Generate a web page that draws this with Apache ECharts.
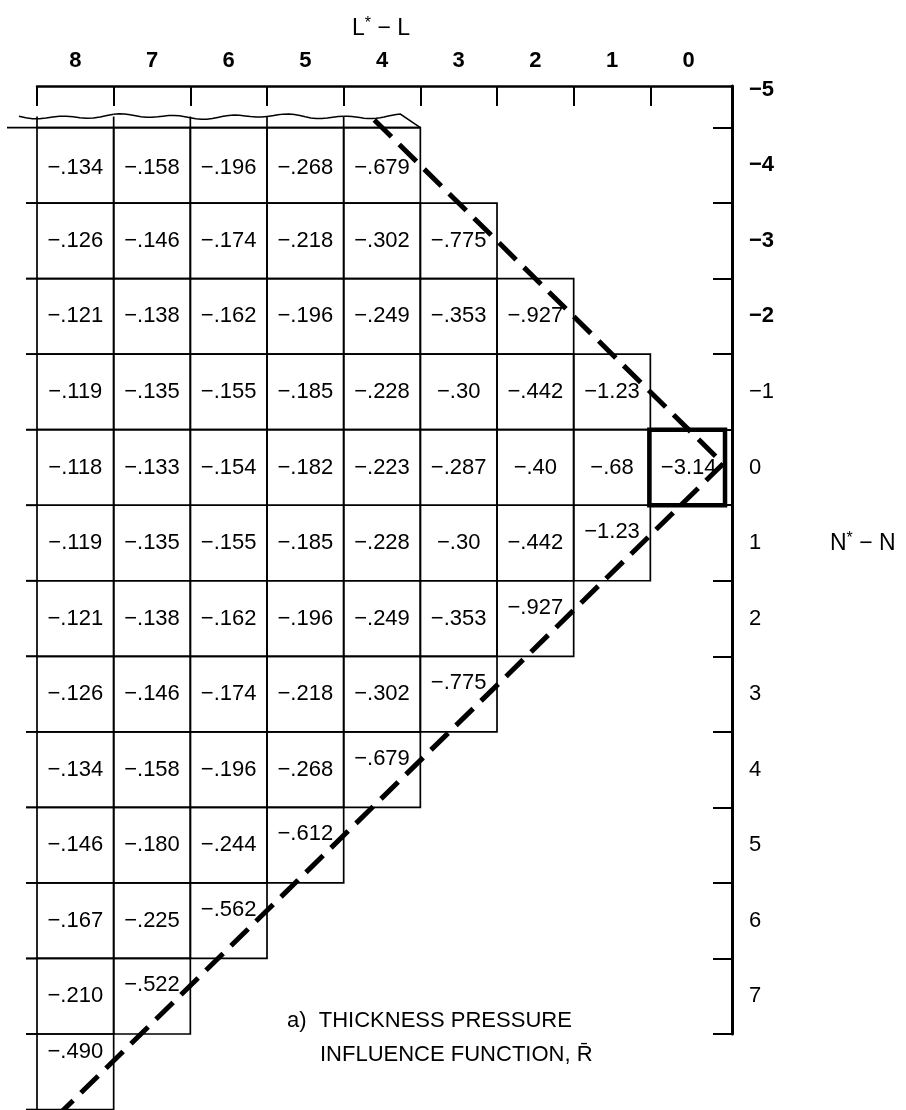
<!DOCTYPE html>
<html>
<head>
<meta charset="utf-8">
<script src="https://cdn.jsdelivr.net/npm/echarts@6.0.0/dist/echarts.min.js"></script>
<style>
  html, body { margin: 0; padding: 0; background: #fff; }
  #chart { width: 906px; height: 1110px; }
</style>
</head>
<body>
<div id="chart"></div>
<script>
// ---- Data (values as printed in the table) ----
// Column axis: L* - L (left to right 8 ... 0)
const colTickLabels = [8, 7, 6, 5, 4, 3, 2, 1, 0];
// Row axis: N* - N (top to bottom)
const rowTickLabels = [-5, -4, -3, -2, -1, 0, 1, 2, 3, 4, 5, 6, 7];
// Rows of the table (N* - N), each row lists values starting at column L*-L = 8
const tableRows = [-4, -3, -2, -1, 0, 1, 2, 3, 4, 5, 6, 7, 8];
const rowM4 = ['-.134', '-.158', '-.196', '-.268', '-.679'];
const rowM3 = ['-.126', '-.146', '-.174', '-.218', '-.302', '-.775'];
const rowM2 = ['-.121', '-.138', '-.162', '-.196', '-.249', '-.353', '-.927'];
const rowM1 = ['-.119', '-.135', '-.155', '-.185', '-.228', '-.30', '-.442', '-1.23'];
const row0  = ['-.118', '-.133', '-.154', '-.182', '-.223', '-.287', '-.40', '-.68', '-3.14'];
const row1  = ['-.119', '-.135', '-.155', '-.185', '-.228', '-.30', '-.442', '-1.23'];
const row2  = ['-.121', '-.138', '-.162', '-.196', '-.249', '-.353', '-.927'];
const row3  = ['-.126', '-.146', '-.174', '-.218', '-.302', '-.775'];
const row4  = ['-.134', '-.158', '-.196', '-.268', '-.679'];
const row5  = ['-.146', '-.180', '-.244', '-.612'];
const row6  = ['-.167', '-.225', '-.562'];
const row7  = ['-.210', '-.522'];
const row8  = ['-.490'];
const rowValueLists = [rowM4, rowM3, rowM2, rowM1, row0, row1, row2, row3, row4, row5, row6, row7, row8];
// Dashed guide lines, in (L*-L, N*-N) coordinates
const upperDiagonal = [[4.1, -4.6], [-0.45, -0.05]];
const lowerDiagonal = [[-0.45, -0.05], [8.2, 8.55]];

// ---- Build cells ----
const cells = [];
tableRows.forEach((r, ri) => {
  rowValueLists[ri].forEach((s, i) => {
    cells.push([colTickLabels[i], r, parseFloat(s), s]);
  });
});

const FONT = '"Liberation Sans", Arial, Helvetica, sans-serif';
const fmtMinus = s => String(s).replace('-', '\u2212');

function renderCell(params, api) {
  const col = api.value(0), row = api.value(1);
  const label = fmtMinus(cells[params.dataIndex][3]);
  const a = api.coord([col + 0.5, row - 0.5]);
  const b = api.coord([col - 0.5, row + 0.5]);
  const x0 = Math.min(a[0], b[0]), x1 = Math.max(a[0], b[0]);
  const y0 = Math.min(a[1], b[1]), y1 = Math.max(a[1], b[1]);
  const isCenter = col === 0 && row === 0;
  const children = [];
  const thin = { stroke: '#000', lineWidth: 1.7 };
  children.push({
    type: 'rect',
    shape: isCenter ? { x: x0 - 1, y: y0, width: x1 - x0 - 1, height: y1 - y0 } : { x: x0, y: y0, width: x1 - x0, height: y1 - y0 },
    style: { fill: 'none', stroke: '#000', lineWidth: isCenter ? 4.5 : 1.7 },
    z2: isCenter ? 10 : 1
  });
  // left-edge tick extensions of row lines
  if (col === 8) {
    children.push({ type: 'line', shape: { x1: x0 - 11, y1: y1, x2: x0, y2: y1 }, style: thin });
    if (row !== -4) children.push({ type: 'line', shape: { x1: x0 - 11, y1: y0, x2: x0, y2: y0 }, style: thin });
  }
  // torn (wavy) top edge above first row
  if (row === -4) {
    const top = y0 - 11;
    const startX = col === 8 ? x0 - 18 : x0;
    const endX = col === 4 ? x1 - 20 : x1;
    const pts = [];
    const n = 14;
    for (let k = 0; k <= n; k++) {
      const x = startX + (endX - startX) * k / n;
      pts.push([x, top + 1.6 * Math.sin((x - 20) / 9) + 1.2 * Math.sin((x - 20) / 23)]);
    }
    if (col === 4) pts.push([x1, y0]);
    children.push({ type: 'polyline', shape: { points: pts }, style: { stroke: '#000', lineWidth: 1.5, fill: 'none' } });
    children.push({ type: 'line', shape: { x1: x0, y1: top, x2: x0, y2: y0 }, style: thin });
    const ext = col === 8 ? 30 : 0;
    children.push({ type: 'line', shape: { x1: x0 - ext, y1: y0, x2: x1, y2: y0 }, style: thin });
  }
  // label position: cells on the lower diagonal have their number lifted
  let dy = 0;
  if (row > 0 && row === col) dy = -11;
  if (row === 8) dy = -20;
  if (row === -4) dy = 3;
  children.push({
    type: 'text',
    x: (x0 + x1) / 2,
    y: (y0 + y1) / 2 + dy,
    style: { text: label, fontSize: 22, fontFamily: FONT, fill: '#000', align: 'center', verticalAlign: 'middle' },
    z2: 20
  });
  return { type: 'group', children };
}

const chart = echarts.init(document.getElementById('chart'), null, { renderer: 'canvas' });
const option = {
  backgroundColor: '#fff',
  animation: false,
  grid: { left: 37, right: 174, top: 86, bottom: 76, containLabel: false, outerBoundsMode: 'none' },
  xAxis: {
    type: 'value', position: 'top', inverse: true, min: -0.565, max: 8.5,
    axisLine: { show: true, onZero: false, lineStyle: { color: '#000', width: 2.5 } },
    axisTick: { show: true, inside: true, length: 20, customValues: [8.5, 7.5, 6.5, 5.5, 4.5, 3.5, 2.5, 1.5, 0.5], lineStyle: { color: '#000', width: 2 } },
    axisLabel: { show: true, customValues: colTickLabels, margin: 14, fontSize: 22, fontWeight: 'bold', fontFamily: FONT, color: '#000' },
    splitLine: { show: false }
  },
  yAxis: {
    type: 'value', position: 'right', inverse: true, min: -5.05, max: 7.5,
    axisLine: { show: true, onZero: false, lineStyle: { color: '#000', width: 3 } },
    axisTick: { show: true, inside: true, length: 19, customValues: [-4.5, -3.5, -2.5, -1.5, -0.5, 0.5, 1.5, 2.5, 3.5, 4.5, 5.5, 6.5, 7.5], lineStyle: { color: '#000', width: 2 } },
    axisLabel: {
      show: true, customValues: rowTickLabels, margin: 17, fontSize: 22, fontFamily: FONT, color: '#000',
      formatter: v => (v <= -2 ? '{b|' + fmtMinus(v) + '}' : fmtMinus(v)),
      rich: { b: { fontSize: 22, fontFamily: FONT, fontWeight: 'bold', color: '#000' } }
    },
    splitLine: { show: false }
  },
  graphic: [
    { type: 'text', x: 381, y: 29, style: { text: 'L{s|*} \u2212 L', fontSize: 23, fontFamily: FONT, fill: '#000', align: 'center', verticalAlign: 'middle', rich: { s: { fontSize: 16, fontFamily: FONT, padding: [0, 0, 10, 0] } } } },
    { type: 'text', x: 830, y: 544, style: { text: 'N{s|*} \u2212 N', fontSize: 23, fontFamily: FONT, fill: '#000', align: 'left', verticalAlign: 'middle', rich: { s: { fontSize: 16, fontFamily: FONT, padding: [0, 0, 10, 0] } } } },
    { type: 'text', x: 287, y: 1021, style: { text: 'a)  THICKNESS PRESSURE', fontSize: 22, fontFamily: FONT, fill: '#000', align: 'left', verticalAlign: 'middle' } },
    { type: 'text', x: 320, y: 1055, style: { text: 'INFLUENCE FUNCTION, R\u0304', fontSize: 22, fontFamily: FONT, fill: '#000', align: 'left', verticalAlign: 'middle' } }
  ],
  series: [
    {
      type: 'custom', name: 'R', clip: false, z: 2,
      renderItem: renderCell,
      data: cells.map(c => [c[0], c[1], c[2]])
    },
    {
      type: 'line', name: 'upper', clip: false, z: 5, symbol: 'none', silent: true,
      data: upperDiagonal,
      lineStyle: { color: '#000', width: 5, type: [24, 11] }
    },
    {
      type: 'line', name: 'lower', clip: false, z: 5, symbol: 'none', silent: true,
      data: lowerDiagonal,
      lineStyle: { color: '#000', width: 5, type: [24, 11] }
    }
  ]
};
chart.setOption(option);
</script>
</body>
</html>
